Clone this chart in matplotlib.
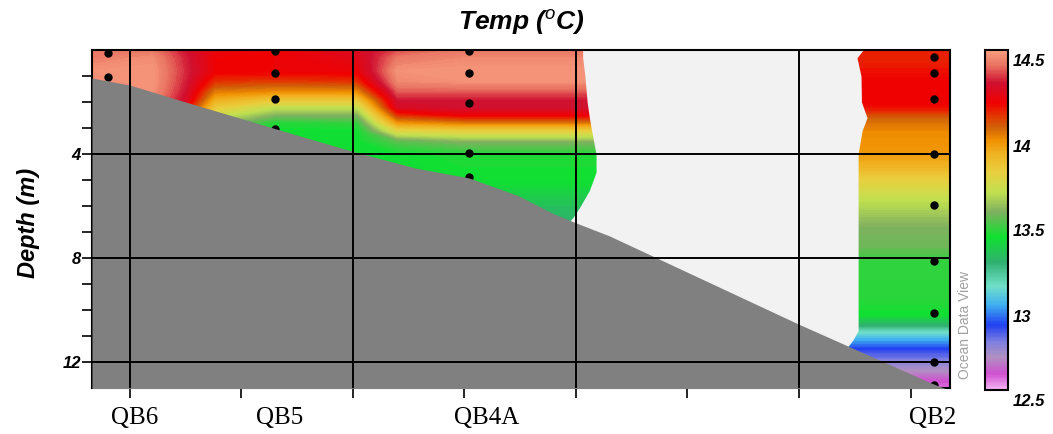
#!/usr/bin/env python3

import numpy as np
import matplotlib
matplotlib.use('Agg')
import matplotlib.pyplot as plt
from matplotlib.colors import LinearSegmentedColormap, Normalize
from matplotlib.cm import ScalarMappable
from matplotlib.transforms import blended_transform_factory, ScaledTranslation

plt.rcParams['font.family'] = ['Liberation Sans', 'DejaVu Sans']
plt.rcParams['mathtext.fontset'] = 'custom'
plt.rcParams['mathtext.it'] = 'Liberation Sans:italic'
plt.rcParams['mathtext.rm'] = 'Liberation Sans'

# stations along the section (x in section units, gridline every 1)
STATIONS = ['QB6', 'QB5', 'QB4A', 'QB2']
LABEL_X = [0.02, 0.67, 1.60, 3.60]
STATION_X = [-0.10, 0.65, 1.52, 3.605]
STATION_DEPTHS = [
    [0.1, 1.04],
    [0.04, 0.9, 1.9, 3.05],
    [0.04, 0.88, 2.05, 3.97, 4.9],
    [0.25, 0.9, 1.9, 4.0, 5.95, 8.1, 10.1, 12.0, 12.9],
]

# gridded temperature (degC), western part of the section
WEST_X = [-0.17, 0.10, 0.25, 0.38, 0.65, 1.02, 1.20, 1.50, 2.15]
WEST_D = [0, 0.3, 0.8, 1.2, 1.6, 1.9, 2.2, 2.5, 2.8, 3.1, 3.5, 4.0, 5.0, 6.0, 7.2]
WEST_T = [
    [14.42, 14.42, 14.30, 14.22, 14.20, 14.27, 14.36, 14.42, 14.42],
    [14.43, 14.46, 14.32, 14.20, 14.20, 14.24, 14.42, 14.45, 14.45],
    [14.47, 14.48, 14.33, 14.20, 14.20, 14.21, 14.47, 14.48, 14.48],
    [14.46, 14.48, 14.32, 14.12, 14.10, 14.12, 14.45, 14.47, 14.47],
    [14.45, 14.47, 14.30, 14.00, 13.97, 13.97, 14.38, 14.38, 14.38],
    [14.45, 14.45, 14.28, 13.90, 13.82, 13.82, 14.31, 14.31, 14.31],
    [14.45, 14.45, 14.20, 13.80, 13.67, 13.67, 14.27, 14.30, 14.30],
    [14.45, 14.45, 14.20, 13.70, 13.55, 13.55, 14.12, 14.20, 14.20],
    [14.45, 14.45, 14.20, 13.60, 13.42, 13.45, 13.95, 14.00, 14.00],
    [14.45, 14.45, 14.20, 13.50, 13.40, 13.40, 13.75, 13.78, 13.78],
    [14.45, 14.45, 14.20, 13.40, 13.40, 13.40, 13.50, 13.56, 13.56],
    [14.45, 14.45, 14.20, 13.40, 13.40, 13.40, 13.40, 13.42, 13.42],
    [14.45, 14.45, 14.20, 13.40, 13.40, 13.40, 13.40, 13.40, 13.40],
    [14.45, 14.45, 14.20, 13.40, 13.40, 13.35, 13.32, 13.30, 13.30],
    [14.45, 14.45, 14.20, 13.40, 13.40, 13.30, 13.25, 13.22, 13.22],
]

# QB2 profile, eastern part of the section
EAST_X = [3.15, 3.75]
EAST_D = [0, 0.5, 0.9, 1.3, 2.0, 2.3, 2.6, 3.1, 4.0, 4.5, 5.0, 5.8, 6.8, 7.6,
          8.1, 9.6, 10.2, 10.6, 10.85, 11.15, 11.5, 12.0, 12.3, 12.7, 13.2]
EAST_T = [14.15, 14.15, 14.17, 14.20, 14.20, 14.15, 14.05, 13.98, 13.95, 13.88,
          13.78, 13.66, 13.55, 13.52, 13.45, 13.43, 13.40, 13.25, 13.11, 13.00,
          12.88, 12.76, 12.70, 12.60, 12.55]

# blank (not gridded) area between QB4A and QB2
GAP_D = [0, 0.3, 1.0, 2.0, 2.6, 3.1, 4.0, 4.7, 5.4, 6.0, 6.4, 6.8, 10.8, 11.15, 11.4, 13.2]
GAP_WEST = [2.03, 2.03, 2.04, 2.05, 2.06, 2.07, 2.09, 2.09, 2.06, 2.02, 1.99, 1.95,
            1.95, 1.95, 1.95, 1.95]
GAP_EAST = [3.287, 3.26, 3.278, 3.28, 3.305, 3.283, 3.265, 3.265, 3.265, 3.265,
            3.265, 3.265, 3.265, 3.242, 3.22, 3.22]

# sea floor
BOTTOM_X = [-0.17, 0.0, 0.23, 0.76, 1.0, 1.28, 1.52, 1.74, 1.9, 2.0, 2.15, 3.0, 3.59, 3.68]
BOTTOM_D = [1.08, 1.35, 1.95, 3.3, 3.9, 4.54, 4.92, 5.6, 6.3, 6.65, 7.15, 10.55, 12.8, 13.1]

# colour scale
CMAP_T = [12.5, 12.59, 12.69, 12.78, 12.88, 13.0, 13.11, 13.25, 13.4, 13.55, 13.66,
          13.78, 13.9, 13.97, 14.05, 14.1, 14.19, 14.31, 14.41, 14.5]
CMAP_C = ['#f4b4f4', '#d050d0', '#b090c0', '#8080e0', '#2040f0', '#40b0f0', '#70e0c8',
          '#30b070', '#10e030', '#80b060', '#c0e050', '#e8d040', '#f0b020', '#f09000',
          '#d06008', '#e04000', '#f00000', '#d01030', '#e87060', '#f8a080']
CBAR_TICKS = [12.5, 13, 13.5, 14, 14.5]

cmap = LinearSegmentedColormap.from_list(
    'odv', [((t - 12.5) / 2.0, c) for t, c in zip(CMAP_T, CMAP_C)])
norm = Normalize(12.5, 14.5)
levels = np.linspace(12.5, 14.5, 201)

fig = plt.figure(figsize=(10.53, 4.34), dpi=100)
ax = fig.add_axes([92 / 1053, 1 - 388 / 434, 858 / 1053, 338 / 434])

ax.contourf(WEST_X, WEST_D, np.array(WEST_T), levels=levels, cmap=cmap, norm=norm,
            extend='both', antialiased=False, zorder=1)
ax.contourf(EAST_X, EAST_D, np.column_stack([EAST_T, EAST_T]), levels=levels,
            cmap=cmap, norm=norm, extend='both', antialiased=False, zorder=1)
ax.fill_betweenx(GAP_D, GAP_WEST, GAP_EAST, color='#f2f2f2', lw=0, zorder=1.5)

for x, depths in zip(STATION_X, STATION_DEPTHS):
    ax.plot([x] * len(depths), depths, 'o', color='black', ms=5, zorder=2)

ax.fill_between(BOTTOM_X, BOTTOM_D, 14, color='#808080', lw=0, zorder=3)

for gx in [0, 1, 2, 3]:
    ax.axvline(gx, color='black', lw=1.4, zorder=4)
for gy in [4, 8, 12]:
    ax.axhline(gy, color='black', lw=1.4, zorder=4)

ax.set_xlim(-0.17, 3.677)
ax.set_ylim(13.0, 0.0)
ax.set_xticks([0, 1, 2, 3])
ax.set_xticks([0.5, 1.5, 2.5, 3.5], minor=True)
ax.set_xticklabels([])
ax.set_yticks([4, 8, 12])
ax.set_yticks([1, 2, 3, 5, 6, 7, 9, 10, 11], minor=True)
ax.set_yticklabels(['4', '8', '12'], fontsize=12, fontweight='bold', fontstyle='italic')
ax.tick_params(which='both', direction='out', length=7, width=1.2, pad=1)
for s in ax.spines.values():
    s.set_linewidth(1.5)

tr = blended_transform_factory(ax.transData, ax.transAxes)
for name, x in zip(STATIONS, LABEL_X):
    ax.text(x, -0.088, name, transform=tr, ha='center', va='center', fontsize=18,
            family='Liberation Serif')

fig.text(0.495, 1 - 22 / 434, r'Temp ($^{o}$C)', ha='center', va='center',
         fontsize=19, fontweight='bold', fontstyle='italic')
fig.text(28 / 1053, 1 - 223 / 434, 'Depth (m)', rotation=90, ha='center', va='center',
         fontsize=17, fontweight='bold', fontstyle='italic')
fig.text(965 / 1053, 1 - 325 / 434, 'Ocean Data View', rotation=90, ha='center',
         va='center', fontsize=10, color='#a0a0a0')

cax = fig.add_axes([985 / 1053, 1 - 390 / 434, 23 / 1053, 340 / 434])
cb = fig.colorbar(ScalarMappable(norm=norm, cmap=cmap), cax=cax, ticks=[])
cb.outline.set_linewidth(1.5)
ctr = blended_transform_factory(cax.transAxes, cax.transData) + \
    ScaledTranslation(5 / 100, -12 / 100, fig.dpi_scale_trans)
for v in CBAR_TICKS:
    cax.text(1.0, v, f'{v:g}', transform=ctr, ha='left', va='center', fontsize=12,
             fontweight='bold', fontstyle='italic')

fig.savefig('out.png', dpi=100)
